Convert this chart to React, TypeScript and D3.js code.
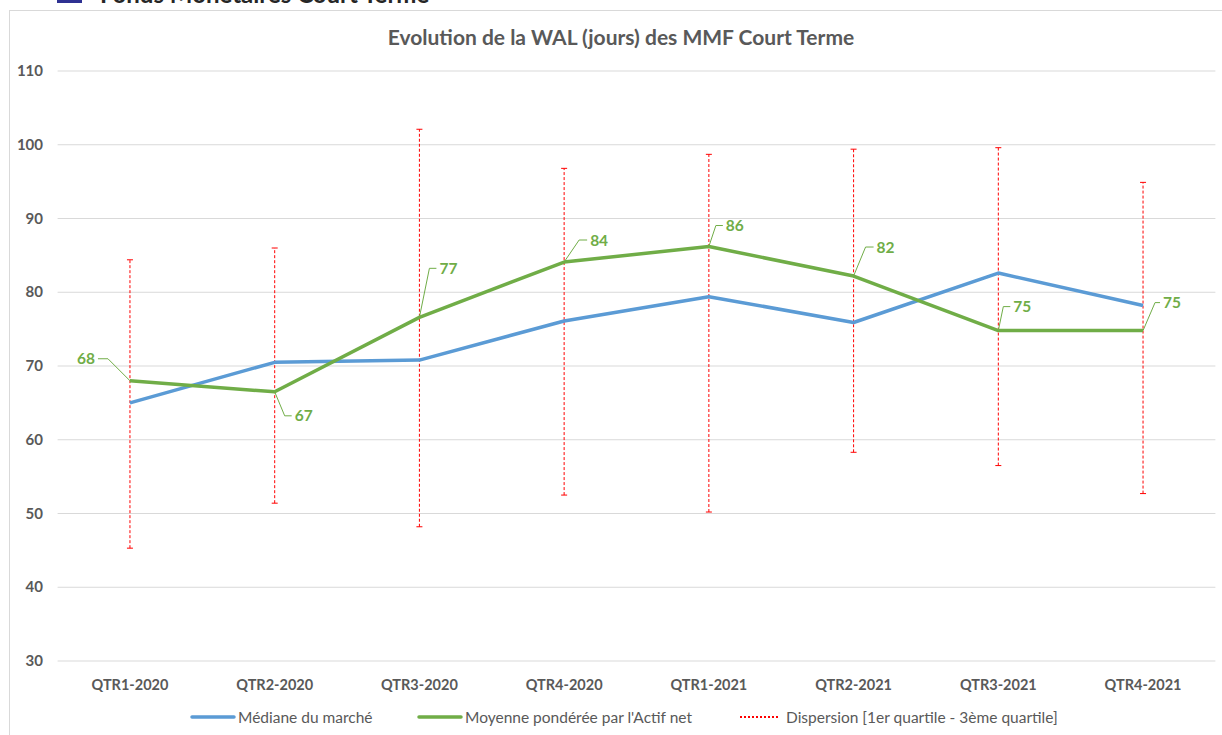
import React from "react";
import * as d3 from "d3";

const categories = ["QTR1-2020", "QTR2-2020", "QTR3-2020", "QTR4-2020", "QTR1-2021", "QTR2-2021", "QTR3-2021", "QTR4-2021"];
const medianValues = [65.0, 70.5, 70.8, 76.1, 79.4, 75.9, 82.6, 78.2];
const weightedAvgValues = [68.0, 66.5, 76.6, 84.1, 86.2, 82.2, 74.8, 74.8];
const weightedAvgLabels = ["68", "67", "77", "84", "86", "82", "75", "75"];
const q1Values = [45.3, 51.4, 48.2, 52.5, 50.2, 58.3, 56.5, 52.7];
const q3Values = [84.4, 86.0, 102.1, 96.8, 98.7, 99.4, 99.6, 94.9];
const yTicks = [30, 40, 50, 60, 70, 80, 90, 100, 110];

// label leader offsets (layout only)
const labelLayout = [
  { ex: -22, ey: -22, hx: -32, side: "left" },
  { ex: 10, ey: 24, hx: 17, side: "right" },
  { ex: 10, ey: -49, hx: 17, side: "right" },
  { ex: 15, ey: -22, hx: 23, side: "right" },
  { ex: 7, ey: -21, hx: 14, side: "right" },
  { ex: 12, ey: -29, hx: 20, side: "right" },
  { ex: 5, ey: -24, hx: 12, side: "right" },
  { ex: 12, ey: -28, hx: 17, side: "right" },
];

const W = 1222;
const H = 735;
const FONT = "Lato, 'Liberation Sans', sans-serif";
const GREY = "#595959";
const BLUE = "#5B9BD5";
const GREEN = "#70AD47";
const RED = "#FF0000";

export default function App() {
  const x = d3.scaleBand<string>().domain(categories).range([57.6, 1215.4]);
  const cx = (c: string) => (x(c) as number) + x.bandwidth() / 2;
  const y = d3.scaleLinear().domain([30, 110]).range([661, 71]);

  const line = d3
    .line<number>()
    .x((_, i) => cx(categories[i]))
    .y((d) => y(d));

  return (
    <svg
      width={W}
      height={H}
      style={{ position: "absolute", left: 0, top: 0, background: "#fff" }}
      fontFamily={FONT}
    >
      {/* header fragment above the chart */}
      <rect x={57} y={-8} width={25} height={11} fill="#2E3192" />
      <text x={100} y={3} fontSize={24} fontWeight="bold" fill="#262626">
        Fonds Monétaires Court Terme
      </text>
      {/* chart frame */}
      <rect x={9.5} y={10.5} width={W + 10} height={H + 10} fill="#fff" stroke="#D9D9D9" />
      <text x={621} y={45} textAnchor="middle" fontSize={21} fontWeight="bold" fill={GREY}>
        Evolution de la WAL (jours) des MMF Court Terme
      </text>

      {/* gridlines and y ticks */}
      {yTicks.map((t) => (
        <g key={t}>
          <line x1={57.6} x2={1215.4} y1={y(t)} y2={y(t)} stroke="#D9D9D9" strokeWidth={1} />
          <text x={43} y={y(t) + 5} textAnchor="end" fontSize={15} fontWeight="bold" fill={GREY}>
            {t}
          </text>
        </g>
      ))}

      {/* x labels */}
      {categories.map((c) => (
        <text key={c} x={cx(c)} y={690} textAnchor="middle" fontSize={14.5} fontWeight="bold" fill={GREY}>
          {c}
        </text>
      ))}

      {/* dispersion bars */}
      {categories.map((c, i) => (
        <g key={"d" + c} stroke={RED} strokeWidth={1}>
          <line x1={cx(c)} x2={cx(c)} y1={y(q1Values[i])} y2={y(q3Values[i])} strokeDasharray="3,2" />
          <line x1={cx(c) - 3} x2={cx(c) + 3} y1={y(q1Values[i])} y2={y(q1Values[i])} />
          <line x1={cx(c) - 3} x2={cx(c) + 3} y1={y(q3Values[i])} y2={y(q3Values[i])} />
        </g>
      ))}

      <path d={line(medianValues) || ""} fill="none" stroke={BLUE} strokeWidth={3.5} strokeLinejoin="round" />
      <path d={line(weightedAvgValues) || ""} fill="none" stroke={GREEN} strokeWidth={3.5} strokeLinejoin="round" />

      {/* data labels with leaders */}
      {weightedAvgValues.map((v, i) => {
        const px = cx(categories[i]);
        const py = y(v);
        const L = labelLayout[i];
        const ex = px + L.ex;
        const ey = py + L.ey;
        const hx = px + L.hx;
        const tx = L.side === "left" ? hx - 3 : hx + 3;
        return (
          <g key={"l" + i}>
            <polyline points={`${px},${py} ${ex},${ey} ${hx},${ey}`} fill="none" stroke={GREEN} strokeWidth={1} />
            <text
              x={tx}
              y={ey + 5.5}
              textAnchor={L.side === "left" ? "end" : "start"}
              fontSize={15.5}
              fontWeight="bold"
              fill={GREEN}
            >
              {weightedAvgLabels[i]}
            </text>
          </g>
        );
      })}

      {/* legend */}
      <g fontSize={15.5} fill={GREY}>
        <line x1={192} x2={234} y1={717} y2={717} stroke={BLUE} strokeWidth={3.5} strokeLinecap="round" />
        <text x={238} y={722.5}>Médiane du marché</text>
        <line x1={419} x2={461} y1={717} y2={717} stroke={GREEN} strokeWidth={3.5} strokeLinecap="round" />
        <text x={465} y={722.5}>Moyenne pondérée par l'Actif net</text>
        <line x1={740} x2={780} y1={717} y2={717} stroke={RED} strokeWidth={2} strokeDasharray="2,2" />
        <text x={786} y={722.5}>Dispersion [1er quartile - 3ème quartile]</text>
      </g>
    </svg>
  );
}
